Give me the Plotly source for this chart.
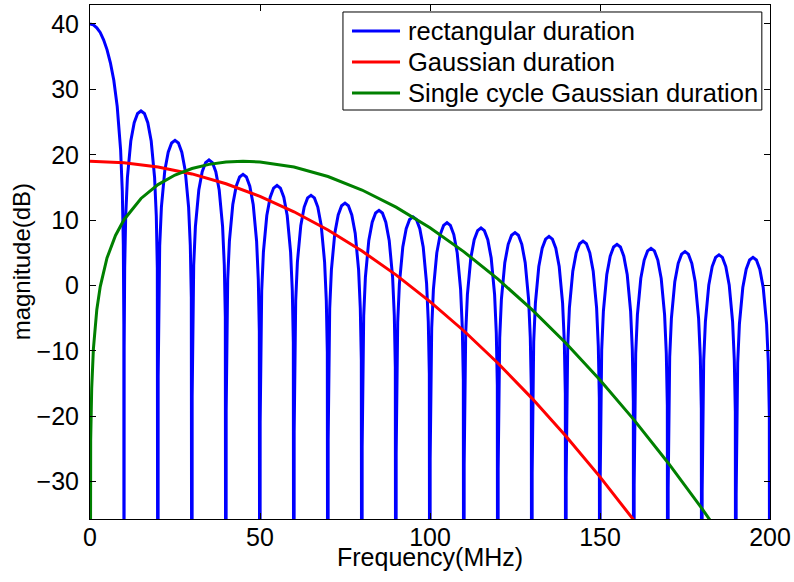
import plotly.graph_objects as go

# ---------------- data ----------------
# rectangular duration: main lobe (0..10 MHz)
main_lobe_x = [0, 1, 2, 3, 4, 5, 6, 7, 8, 9, 9.5, 9.8, 9.95, 10]
main_lobe_y = [40, 39.86, 39.42, 38.70, 37.58, 36.08, 34.06, 31.40, 27.40, 20.8, 14.4, 6.2, -6.0, -90]

# side lobes: every 10 MHz, peak levels (dB)
lobe_width = 10
lobe_peaks = [26.7, 22.2, 19.2, 17.0, 15.3, 13.8, 12.6, 11.5, 10.5, 9.6,
              8.8, 8.1, 7.5, 6.8, 6.3, 5.7, 5.2, 4.7, 4.3]
# shape of one side lobe relative to its peak (fraction of lobe, dB below peak)
lobe_pos = [0.005, 0.02, 0.05, 0.1, 0.2, 0.3, 0.4, 0.5, 0.6, 0.7, 0.8, 0.9, 0.95, 0.98, 0.995, 1.0]
lobe_drop = [-36.1, -24.0, -16.1, -10.2, -4.6, -1.8, -0.4, 0.0, -0.4, -1.8, -4.6, -10.2, -16.1, -24.0, -36.1, -130]

# Gaussian duration
gauss_x = [0, 10, 20, 30, 40, 50, 60, 70, 80, 90, 100, 110, 120, 130, 140, 150, 160, 170]
gauss_y = [19.0, 18.79, 18.14, 17.07, 15.57, 13.64, 11.28, 8.49, 5.27, 1.63, -2.45,
           -6.95, -11.88, -17.25, -23.04, -29.26, -35.91, -43.0]

# Single cycle Gaussian duration
sc_x = [0, 0.2, 0.5, 1, 2, 3, 5, 7.5, 10, 15, 20, 25, 30, 35, 40, 45, 50, 60, 70, 80,
        90, 100, 110, 120, 130, 140, 150, 160, 170, 180, 190]
sc_y = [-90, -23.7, -15.7, -9.7, -3.7, -0.2, 4.21, 7.66, 10.07, 13.32, 15.44, 16.90,
        17.89, 18.53, 18.89, 19.0, 18.90, 18.12, 16.67, 14.61, 11.99, 8.84, 5.15, 0.98,
        -3.69, -8.83, -14.45, -20.54, -27.09, -34.11, -41.57]

series_names = ["rectangular duration", "Gaussian duration", "Single cycle Gaussian duration"]
series_colors = ["#0000FF", "#FF0000", "#008000"]

x_ticks = [0, 50, 100, 150, 200]
y_ticks = [-30, -20, -10, 0, 10, 20, 30, 40]
x_label = "Frequency(MHz)"
y_label = "magnitude(dB)"

# build rectangular curve from main lobe + side lobes
rect_x = list(main_lobe_x)
rect_y = list(main_lobe_y)
for k, pk in enumerate(lobe_peaks, start=1):
    base = k * lobe_width
    for p, d in zip(lobe_pos, lobe_drop):
        rect_x.append(base + p * lobe_width)
        rect_y.append(pk + d)

FONT = "Liberation Sans, Arial, Helvetica, sans-serif"

fig = go.Figure()
for xs, ys, nm, col in zip([rect_x, gauss_x, sc_x], [rect_y, gauss_y, sc_y],
                           series_names, series_colors):
    fig.add_trace(go.Scatter(x=xs, y=ys, mode="lines", name=nm,
                             line=dict(color=col, width=3), showlegend=False))

axis_common = dict(showgrid=False, zeroline=False, showline=True, linecolor="black",
                   linewidth=1, mirror="ticks", ticks="inside", ticklen=6, tickwidth=1,
                   tickcolor="black", automargin=False,
                   tickfont=dict(family=FONT, size=25, color="black"))

fig.update_xaxes(range=[0, 200], tickvals=x_ticks, ticktext=[str(v) for v in x_ticks],
                 ticklabelstandoff=-4, **axis_common)
fig.update_yaxes(range=[-35.7, 42.9], tickvals=y_ticks,
                 ticktext=[("\u2212" + str(-v)) if v < 0 else str(v) for v in y_ticks],
                 ticklabelstandoff=5, **axis_common)

# manual MATLAB-style legend box (paper coords of the plot area)
L_x0, L_x1, L_y0, L_y1 = 0.372, 0.988, 0.7957, 0.9864
row_y = [0.9494, 0.8891, 0.8288]
line_x0, line_x1, text_x = 0.3853, 0.4559, 0.4647
shapes = [dict(type="rect", xref="paper", yref="paper", x0=L_x0, x1=L_x1, y0=L_y0, y1=L_y1,
               line=dict(color="black", width=1), fillcolor="white", layer="above")]
annotations = []
for ry, nm, col in zip(row_y, series_names, series_colors):
    shapes.append(dict(type="line", xref="paper", yref="paper", x0=line_x0, x1=line_x1,
                       y0=ry, y1=ry, line=dict(color=col, width=3), layer="above"))
    annotations.append(dict(xref="paper", yref="paper", x=text_x, y=ry, text=nm,
                            showarrow=False, xanchor="left", yanchor="middle",
                            font=dict(family=FONT, size=25.5, color="black")))

# axis titles as annotations placed like the reference
annotations.append(dict(xref="paper", yref="paper", x=0.5, y=-0.0739, text=x_label,
                        showarrow=False, xanchor="center", yanchor="middle",
                        font=dict(family=FONT, size=25, color="black")))
annotations.append(dict(xref="paper", yref="paper", x=-0.101, y=0.5, text=y_label,
                        showarrow=False, xanchor="center", yanchor="middle", textangle=-90,
                        font=dict(family=FONT, size=24, color="black")))

fig.update_layout(
    width=794, height=582,
    margin=dict(l=90, r=24, t=5, b=63, autoexpand=False),
    paper_bgcolor="white", plot_bgcolor="white",
    showlegend=False,
    shapes=shapes, annotations=annotations,
)

fig.write_html("out.html", config={"displayModeBar": False},
               post_script="document.body.style.margin='0';document.body.style.padding='0';")
